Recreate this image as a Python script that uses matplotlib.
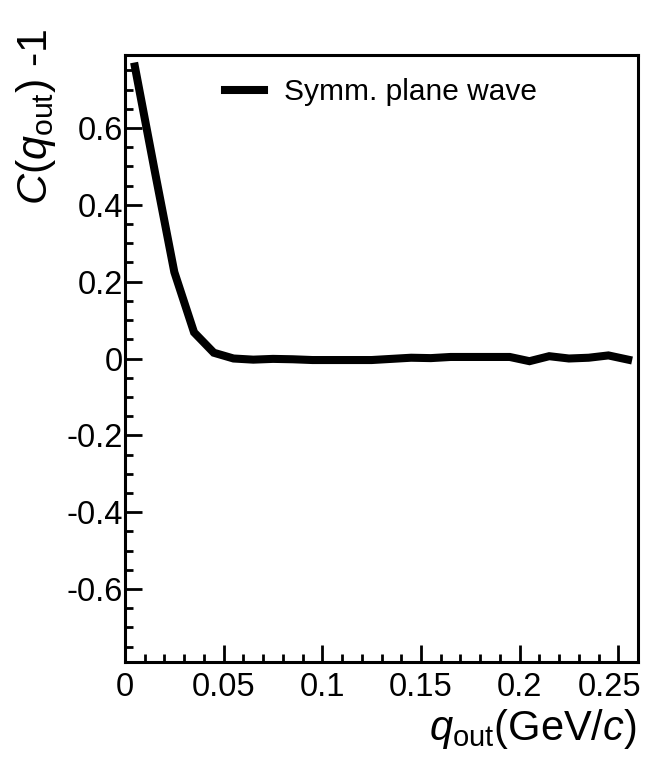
import matplotlib
matplotlib.use("Agg")
import matplotlib.pyplot as plt
import matplotlib.transforms as mtransforms
from matplotlib.ticker import MultipleLocator, FuncFormatter

plt.rcParams['font.family'] = ['Liberation Sans', 'DejaVu Sans']
plt.rcParams['mathtext.fontset'] = 'custom'
plt.rcParams['mathtext.rm'] = 'Liberation Sans'
plt.rcParams['mathtext.it'] = 'Liberation Sans:italic'

# data
q_out = [0.005, 0.015, 0.025, 0.035, 0.045, 0.055, 0.065, 0.075, 0.085, 0.095,
         0.105, 0.115, 0.125, 0.135, 0.145, 0.155, 0.165, 0.175, 0.185, 0.195,
         0.205, 0.215, 0.225, 0.235, 0.245, 0.255]
corr = [0.76, 0.49, 0.225, 0.068, 0.015, 0.0, -0.003, -0.001, -0.002, -0.004,
        -0.004, -0.004, -0.004, -0.001, 0.002, 0.001, 0.004, 0.004, 0.004, 0.004,
        -0.007, 0.006, 0.0, 0.002, 0.008, -0.003]
series_label = "Symm. plane wave"
x_ticks = [0, 0.05, 0.1, 0.15, 0.2, 0.25]
y_ticks = [-0.6, -0.4, -0.2, 0, 0.2, 0.4, 0.6]

fig = plt.figure(figsize=(6.48, 7.6), dpi=100)
ax = fig.add_axes([125/648, 1-662/760, 513/648, 607/760])

ax.plot(q_out, corr, color='black', lw=5.8, solid_joinstyle='miter', label=series_label)

ax.set_xlim(0, 0.26)
ax.set_ylim(-0.79, 0.79)
ax.set_xticks(x_ticks)
ax.set_yticks(y_ticks)
ax.xaxis.set_minor_locator(MultipleLocator(0.01))
ax.yaxis.set_minor_locator(MultipleLocator(0.05))

def fmt(v, pos):
    s = f"{v:g}"
    if s == "-0":
        s = "0"
    return s
ax.xaxis.set_major_formatter(FuncFormatter(fmt))
ax.yaxis.set_major_formatter(FuncFormatter(fmt))

for s in ax.spines.values():
    s.set_linewidth(2.2)
ax.tick_params(which='both', direction='in', top=False, right=False, width=2.0, labelsize=23.5)
ax.tick_params(which='major', length=12)
ax.tick_params(which='minor', length=6)
ax.tick_params(axis='x', which='major', pad=7)
ax.tick_params(axis='y', which='major', pad=1.5)

# last x tick label nudged left to stay inside the canvas
fig.canvas.draw()
lbl = ax.get_xticklabels()[-1]
lbl.set_transform(lbl.get_transform() + mtransforms.ScaledTranslation(-9/100, 0, fig.dpi_scale_trans))

leg = ax.legend(loc='center left', bbox_to_anchor=(0.195, 0.939), frameon=False,
                fontsize=21.5, handlelength=1.32, handletextpad=0.66,
                borderpad=0, borderaxespad=0)

fig.text(0.056, 1-28/760, r"$C(q_{\rm out})$ -1", rotation=90, ha='center', va='top', fontsize=31)
fig.text(0.983, 1-740/760, r"$q_{\rm out}$(GeV/$c$)", ha='right', va='baseline', fontsize=30)

fig.savefig("out.png", dpi=100)
